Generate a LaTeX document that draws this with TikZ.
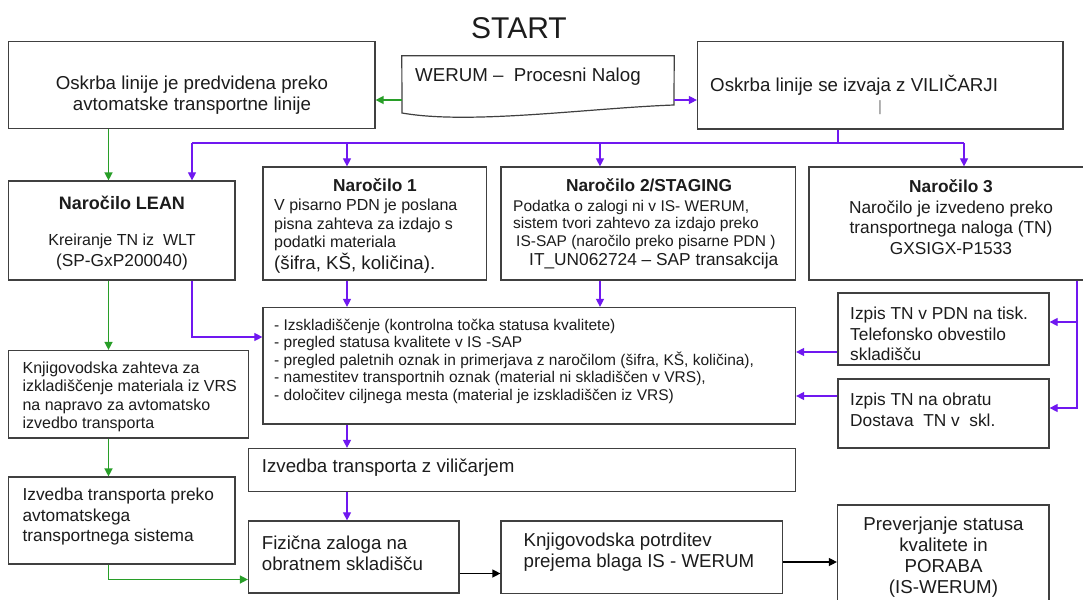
\documentclass[tikz,border=0pt]{standalone}
\usepackage{fontspec}
\setmainfont{Liberation Sans}
\usepackage{xcolor}
\usepackage{tikz}
\usetikzlibrary{arrows.meta, positioning, calc}

\definecolor{vijol}{RGB}{112,24,240}
\definecolor{zelena}{RGB}{40,158,40}
\definecolor{okvir}{RGB}{64,64,64}
\definecolor{besedilo}{RGB}{28,28,28}

\begin{document}
\begin{tikzpicture}[
  x=1pt,
  y=-1pt,
  box/.style={rectangle, draw=okvir, line width=1.2pt, inner sep=0pt},
  txt/.style={inner sep=0pt, text=besedilo, align=left},
  fnaslov/.style={font=\fontsize{30}{36}\selectfont},
  fveliki/.style={font=\fontsize{18.7}{21}\selectfont},
  fsrednji/.style={font=\fontsize{17.3}{20.5}\selectfont},
  fmali/.style={font=\fontsize{16}{18.5}\selectfont},
  fdrobni/.style={font=\fontsize{15.5}{17.5}\selectfont},
  fglava/.style={font=\fontsize{17.3}{20}\selectfont\bfseries},
  vflow/.style={-{Triangle[length=8pt, width=8pt]}, draw=vijol, line width=1.1pt},
  vline/.style={draw=vijol, line width=1.1pt},
  gflow/.style={-{Triangle[length=8pt, width=8pt]}, draw=zelena, line width=1.4pt},
  gline/.style={draw=zelena, line width=1.4pt},
  kflow/.style={-{Triangle[length=8pt, width=8pt]}, draw=black, line width=1.3pt}
]

\clip (0,0) rectangle (1083,599);
\fill[white] (0,0) rectangle (1083,599);

% Title
\node[txt, fnaslov] (naslov) at (519,28) {START};

% Top row
\node[box, minimum width=366.5pt, minimum height=87pt] (oskrbaA) at (191.75,85) {};
\node[box, minimum width=365.5pt, minimum height=87.5pt] (oskrbaB) at (880.25,85.25) {};
\node[inner sep=0pt, minimum width=272pt, minimum height=57pt] (werum) at (538,84.5) {};
\draw[okvir, line width=1.2pt] (werum.north west) -- (werum.north east) -- (674,105)
  .. controls (590,108) and (470,125) .. (402,113) -- cycle;

\node[txt, fveliki, align=center] (oskrbaA-t) at (192,95.5) {Oskrba linije je predvidena preko\\avtomatske transportne linije};
\node[txt, fveliki, anchor=west] (werum-t) at (415,77) {WERUM –\ \ Procesni Nalog};
\node[txt, fveliki, anchor=west] (oskrbaB-t) at (710,85) {Oskrba linije se izvaja z VILIČARJI};
\node[inner sep=0pt, text=gray, font=\fontsize{15}{18}\selectfont] (kazalec) at (880,108) {|};

% Order row
\node[box, minimum width=226.5pt, minimum height=99pt] (lean) at (121.75,230.5) {};
\node[box, minimum width=223.5pt, minimum height=113pt] (nar1) at (374.75,223.5) {};
\node[box, minimum width=294.5pt, minimum height=113pt] (nar2) at (648.25,223.5) {};
\node[box, minimum width=284pt, minimum height=113pt] (nar3) at (951,223.5) {};

\node[txt, font=\fontsize{18}{21}\selectfont\bfseries] (lean-h) at (122,202.5) {Naročilo LEAN};
\node[txt, fmali] (lean-t) at (122,241) {Kreiranje TN iz\ \ WLT};
\node[txt, fsrednji] (lean-s) at (122,262) {(SP-GxP200040)};

\node[txt, fglava] (nar1-h) at (375,185.5) {Naročilo 1};
\node[txt, fmali, anchor=west] (nar1-t) at (274,225) {V pisarno PDN je poslana\\pisna zahteva za izdajo s\\podatki materiala};
\node[txt, fveliki, anchor=west] (nar1-s) at (274,263.5) {(šifra, KŠ, količina).};

\node[txt, fglava] (nar2-h) at (649,185.5) {Naročilo 2/STAGING};
\node[txt, fdrobni, anchor=west] (nar2-t) at (513,224.5) {Podatka o zalogi ni v IS- WERUM,\\sistem tvori zahtevo za izdajo preko\\\hspace{3pt}IS-SAP (naročilo preko pisarne PDN )};
\node[txt, fsrednji, anchor=west] (nar2-s) at (529,261) {IT\_UN062724 – SAP transakcija};

\node[txt, fglava] (nar3-h) at (951,186) {Naročilo 3};
\node[txt, fsrednji, align=center] (nar3-t) at (951,227.5) {Naročilo je izvedeno preko\\transportnega naloga (TN)\\GXSIGX-P1533};

% Middle row
\node[box, minimum width=240pt, minimum height=87.5pt] (knjzah) at (128.5,394.25) {};
\node[box, minimum width=532.5pt, minimum height=116.5pt] (seznam) at (529.25,365.75) {};
\node[box, minimum width=211pt, minimum height=72pt] (izpis1) at (943.5,329) {};
\node[box, minimum width=211pt, minimum height=69pt] (izpis2) at (943.5,413.5) {};

\node[txt, fmali, anchor=west] (knjzah-t) at (22.4,397) {Knjigovodska zahteva za\\izkladiščenje materiala iz VRS\\na napravo za avtomatsko\\izvedbo transporta};
\node[txt, fdrobni, anchor=west] (seznam-t) at (274,361) {- Izskladiščenje (kontrolna točka statusa kvalitete)\\- pregled statusa kvalitete v IS -SAP\\- pregled paletnih oznak in primerjava z naročilom (šifra, KŠ, količina),\\- namestitev transportnih oznak (material ni skladiščen v VRS),\\- določitev ciljnega mesta (material je izskladiščen iz VRS)};
\node[txt, fsrednji, anchor=west] (izpis1-t) at (850,334) {Izpis TN v PDN na tisk.\\Telefonsko obvestilo\\skladišču};
\node[txt, fsrednji, anchor=west] (izpis2-t) at (850,410) {Izpis TN na obratu\\Dostava\ \ TN v\ \ skl.};

% Bottom rows
\node[box, minimum width=547pt, minimum height=43pt] (vilicar) at (522,470) {};
\node[box, minimum width=226.5pt, minimum height=87pt] (izvauto) at (121.75,520.5) {};
\node[box, minimum width=210.5pt, minimum height=72pt] (fizicna) at (353.75,557) {};
\node[box, minimum width=281.5pt, minimum height=72.5pt] (potrd) at (641.75,557.25) {};
\node[box, minimum width=211.5pt, minimum height=100pt] (prever) at (943.25,555) {};

\node[txt, fveliki, anchor=west] (vilicar-t) at (261.7,468) {Izvedba transporta z viličarjem};
\node[txt, fsrednji, anchor=west] (izvauto-t) at (22.4,517) {Izvedba transporta preko\\avtomatskega\\transportnega sistema};
\node[txt, fveliki, anchor=west] (fizicna-t) at (261.7,553) {Fizična zaloga na\\obratnem skladišču};
\node[txt, fveliki, anchor=west] (potrd-t) at (523.4,552.5) {Knjigovodska potrditev\\prejema blaga IS - WERUM};
\node[txt, fveliki, align=center] (prever-t) at (943.5,557) {Preverjanje statusa\\kvalitete in\\PORABA\\(IS-WERUM)};

% Junctions
\coordinate (razcep) at (838,143);
\coordinate (desno) at (1077,0);

% Connectors from the process order
\draw[gflow] (werum.west |- 0,100) -- (oskrbaA.east |- 0,100);
\draw[vflow] (werum.east |- 0,100) -- (oskrbaB.west |- 0,100);

% Automatic line (green)
\draw[gflow] (oskrbaA.south -| 108.5,0) -- (lean.north -| 108.5,0);
\draw[gflow] (lean.south -| 108.5,0) -- (knjzah.north -| 108.5,0);
\draw[gflow] (knjzah.south -| 108.5,0) -- (izvauto.north -| 108.5,0);
\draw[gflow] (izvauto.south -| 108.5,0) |- (fizicna.west |- 0,579.5);

% Forklift supply (violet)
\draw[vline] (oskrbaB.south -| razcep) -- (razcep);
\draw[vline] (razcep -| 192,0) -- (razcep -| 964,0);
\draw[vflow] (razcep -| 192,0) -- (lean.north -| 192,0);
\draw[vflow] (razcep -| 347,0) -- (nar1.north -| 347,0);
\draw[vflow] (razcep -| 600,0) -- (nar2.north -| 600,0);
\draw[vflow] (razcep -| 964,0) -- (nar3.north -| 964,0);

\draw[vflow] (lean.south -| 192,0) |- (seznam.west |- 0,337);
\draw[vflow] (nar1.south -| 347,0) -- (seznam.north -| 347,0);
\draw[vflow] (nar2.south -| 600,0) -- (seznam.north -| 600,0);
\draw[vline] (nar3.south -| desno) -- (desno |- 0,322);
\draw[vflow] (desno |- 0,322) -- (izpis1.east |- 0,322);
\draw[vflow] (desno |- 0,322) |- (izpis2.east |- 0,408);
\draw[vflow] (izpis1.west |- 0,352) -- (seznam.east |- 0,352);
\draw[vflow] (izpis2.west |- 0,396) -- (seznam.east |- 0,396);
\draw[vflow] (seznam.south -| 347,0) -- (vilicar.north -| 347,0);
\draw[vflow] (vilicar.south -| 347,0) -- (fizicna.north -| 347,0);

% Final steps
\draw[kflow] (fizicna.east |- 0,573.5) -- (potrd.west |- 0,573.5);
\draw[kflow] (potrd.east |- 0,562) -- (prever.west |- 0,562);

\end{tikzpicture}
\end{document}
